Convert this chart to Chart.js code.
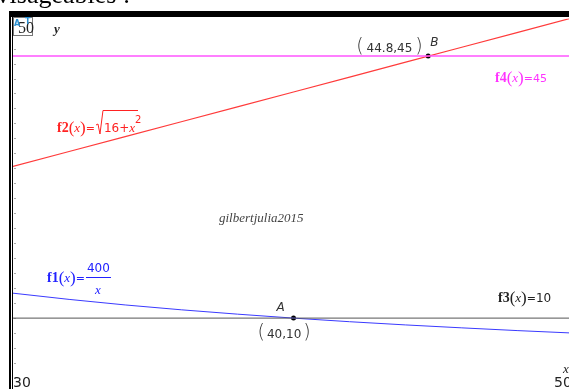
<!DOCTYPE html>
<html>
<head>
  <meta charset="utf-8">
  <title>index</title>
  <script src="https://cdn.jsdelivr.net/npm/chart.js"></script>
  <style>
    html, body { margin: 0; padding: 0; background: #fff; overflow: hidden; }
    #chart { position: absolute; left: 0; top: 0; }
  </style>
</head>
<body>
  <canvas id="chart" width="574" height="394"></canvas>

  <script>
    // values
    const xValues = [30, 32, 34, 36, 38, 40, 42, 44, 46, 48, 50];
    const f1Values = [13.33, 12.5, 11.76, 11.11, 10.53, 10, 9.52, 9.09, 8.7, 8.33, 8];
    const f2Values = [30.27, 32.25, 34.23, 36.22, 38.21, 40.2, 42.19, 44.18, 46.17, 48.17, 50.16];
    const lineX = [30, 50];
    const f3Values = [10, 10];
    const f4Values = [45, 45];
    const pointNames = ['A', 'B'];
    const pointX = [40, 44.8];
    const pointY = [10, 45];
    const xTickLabels = ['30', '50'];
    const yTickLabel = '50';

    const toXY = (xs, ys) => xs.map((x, i) => ({ x: x, y: ys[i] }));

    const serif = "'Liberation Serif', 'DejaVu Serif', serif";
    const sans = "'DejaVu Sans', 'Liberation Sans', sans-serif";

    // draw a run of text pieces with their own fonts
    function drawRun(ctx, x, y, parts, color) {
      ctx.textBaseline = 'alphabetic';
      ctx.textAlign = 'left';
      parts.forEach(p => {
        ctx.font = p.f;
        ctx.fillStyle = p.c || color;
        ctx.fillText(p.t, x, y + (p.dy || 0));
        x += ctx.measureText(p.t).width + (p.gap || 0);
      });
      return x;
    }

    function fxLabel(name) {
      return [
        { t: name, f: 'bold 14px ' + serif },
        { t: '(', f: '17px ' + serif, dy: 1 },
        { t: 'x', f: 'italic 13px ' + serif },
        { t: ')', f: '17px ' + serif, dy: 1 },
        { t: '=', f: '11px ' + sans }
      ];
    }

    const decorPlugin = {
      id: 'decor',
      beforeDatasetsDraw(chart) {
        const ctx = chart.ctx;
        const y = chart.scales.y;
        const area = chart.chartArea;
        ctx.save();
        ctx.fillStyle = '#aaa';
        for (let v = y.min; v <= y.max; v += 2) {
          const py = Math.round(y.getPixelForValue(v));
          ctx.fillRect(area.left + 1, py, 2, 1);
        }
        ctx.restore();
      },
      afterDraw(chart) {
        const ctx = chart.ctx;
        const xs = chart.scales.x;
        const ys = chart.scales.y;
        ctx.save();

        // frame of the graph window
        ctx.fillStyle = '#000';
        ctx.fillRect(9, 11, 565, 6);
        ctx.fillRect(9, 11, 2, 390);
        ctx.fillRect(12, 11, 1, 390);

        // page text above the screen
        ctx.font = '26px ' + serif;
        ctx.fillStyle = '#000';
        ctx.textBaseline = 'alphabetic';
        ctx.fillText('envisageables :', -28, 3);

        // y max box
        ctx.fillStyle = '#fff';
        ctx.fillRect(13, 17, 20, 19);
        ctx.strokeStyle = '#777';
        ctx.lineWidth = 1;
        ctx.strokeRect(13.5, 17.5, 19, 18);
        drawRun(ctx, 18, 33, [{ t: yTickLabel, f: '16px ' + serif }], '#222');
        ctx.font = 'bold 8px ' + sans;
        ctx.fillStyle = '#2a8fd0';
        ctx.fillText('A', 14, 26);
        ctx.fillText('T', 25, 24);
        drawRun(ctx, 54, 33, [{ t: 'y', f: 'italic bold 13px ' + serif }], '#222');

        // x window labels
        drawRun(ctx, 13, 387, [{ t: xTickLabels[0], f: '14px ' + sans }], '#222');
        drawRun(ctx, 554, 387, [{ t: xTickLabels[1], f: '14px ' + sans }], '#222');
        drawRun(ctx, 563, 373, [{ t: 'x', f: 'italic 13px ' + serif }], '#222');

        // intersection points labels
        const ax = xs.getPixelForValue(pointX[0]);
        const ay = ys.getPixelForValue(pointY[0]);
        const bx = xs.getPixelForValue(pointX[1]);
        const by = ys.getPixelForValue(pointY[1]);
        drawRun(ctx, ax - 17, ay - 7, [{ t: pointNames[0], f: 'italic 12px ' + sans }], '#333');
        drawRun(ctx, ax - 36, ay + 20, [
          { t: '(', f: '200 19px ' + sans, gap: 2 },
          { t: pointX[0] + ',' + pointY[0], f: '12px ' + sans, gap: 2 },
          { t: ')', f: '200 19px ' + sans }
        ], '#333');
        drawRun(ctx, bx + 2, by - 10, [{ t: pointNames[1], f: 'italic 12px ' + sans }], '#333');
        drawRun(ctx, bx - 72, by - 4, [
          { t: '(', f: '200 19px ' + sans, gap: 3 },
          { t: pointX[1] + ',' + pointY[1], f: '12px ' + sans, gap: 3 },
          { t: ')', f: '200 19px ' + sans }
        ], '#333');

        // function labels
        drawRun(ctx, 495, 82, fxLabel('f4').concat([{ t: '45', f: '11px ' + sans }]), '#ff33ff');
        drawRun(ctx, 498, 302, fxLabel('f3').concat([{ t: '10', f: '12px ' + sans }]), '#222');

        const x2 = drawRun(ctx, 57, 132, fxLabel('f2'), '#ff2222');
        ctx.strokeStyle = '#ff2222';
        ctx.lineWidth = 1;
        ctx.beginPath();
        ctx.moveTo(x2 + 1, 125);
        ctx.lineTo(x2 + 3, 124);
        ctx.lineTo(x2 + 5, 134);
        ctx.lineTo(x2 + 8, 110.5);
        ctx.lineTo(138, 110.5);
        ctx.stroke();
        drawRun(ctx, x2 + 9, 132, [
          { t: '16+', f: '12px ' + sans },
          { t: 'x', f: 'italic 13px ' + serif },
          { t: '2', f: '10px ' + sans, dy: -9 }
        ], '#ff2222');

        const x1 = drawRun(ctx, 47, 282, fxLabel('f1'), '#2222ff');
        ctx.fillStyle = '#2222ff';
        ctx.fillRect(x1 + 1, 277, 25, 1);
        drawRun(ctx, x1 + 2, 272, [{ t: '400', f: '12px ' + sans }], '#2222ff');
        drawRun(ctx, x1 + 10, 294, [{ t: 'x', f: 'italic 13px ' + serif }], '#2222ff');

        drawRun(ctx, 219, 222, [{ t: 'gilbertjulia2015', f: 'italic 13px ' + serif }], '#444');

        ctx.restore();
      }
    };

    new Chart(document.getElementById('chart'), {
      type: 'scatter',
      data: {
        datasets: [
          { label: 'f4', data: toXY(lineX, f4Values), showLine: true, borderColor: '#ff55ff', borderWidth: 1.5, pointRadius: 0 },
          { label: 'f3', data: toXY(lineX, f3Values), showLine: true, borderColor: '#555', borderWidth: 1, pointRadius: 0 },
          { label: 'f2', data: toXY(xValues, f2Values), showLine: true, borderColor: '#ff3b3b', borderWidth: 1.2, pointRadius: 0 },
          { label: 'f1', data: toXY(xValues, f1Values), showLine: true, borderColor: '#3a3aff', borderWidth: 1, pointRadius: 0, cubicInterpolationMode: 'monotone' },
          { label: 'points', data: toXY(pointX, pointY), showLine: false, backgroundColor: '#000', borderColor: '#000', pointRadius: 2.5, borderWidth: 0 }
        ]
      },
      options: {
        responsive: false,
        animation: false,
        devicePixelRatio: 1,
        layout: { autoPadding: false, padding: { left: 13, top: 18.6, right: 0, bottom: 1 } },
        plugins: { legend: { display: false }, tooltip: { enabled: false } },
        scales: {
          x: { type: 'linear', min: 30, max: 50, display: false },
          y: { type: 'linear', min: 0, max: 50, display: false }
        }
      },
      plugins: [decorPlugin]
    });
  </script>
</body>
</html>
